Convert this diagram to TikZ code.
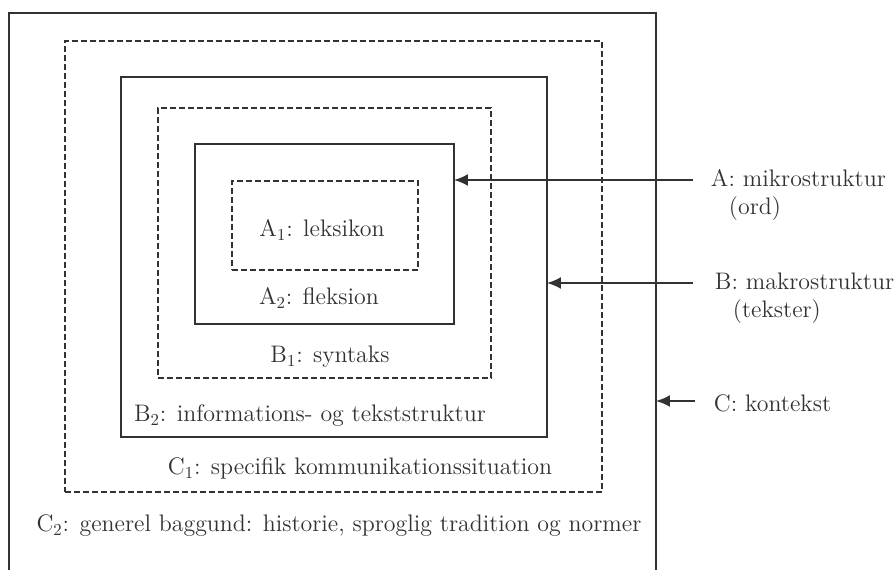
\documentclass[tikz,border=0pt]{standalone}
\usepackage{tikz}
\usetikzlibrary{arrows.meta}
\usepackage{xcolor}
\definecolor{ink}{RGB}{50,50,50}

\begin{document}
\begin{tikzpicture}[
    x=0.02cm,
    y=-0.02cm,
    ink,
    line width=1.1pt,
    solidbox/.style={draw,
        inner sep=0pt,
        outer sep=0pt},
    dashbox/.style={solidbox,
        dash pattern=on 1.2mm off 0.6mm},
    lbl/.style={font=\fontsize{13.6}{16}\selectfont,
        inner sep=0pt,
        text=ink},
    arr/.style={-{Latex[length=2.8mm,width=2.4mm]}}]

\useasboundingbox (0,0) rectangle (894,570);

% C: outer frame (open at the bottom)
\coordinate (Csw) at (9,572);
\coordinate (Cse) at (656,572);
\draw (Csw) -- (9,13) -- (656,13) -- (Cse);

% C1
\node[dashbox,
    minimum width=10.74cm,
    minimum height=9.02cm] (boxCone) at (333.5,266.5) {};

% B2
\node[solidbox,
    minimum width=8.52cm,
    minimum height=7.2cm] (boxBtwo) at (334,257) {};

% B1
\node[dashbox,
    minimum width=6.66cm,
    minimum height=5.4cm] (boxBone) at (324.5,243) {};

% A2
\node[solidbox,
    minimum width=5.18cm,
    minimum height=3.6cm] (boxAtwo) at (324.5,234) {};

% A1
\node[dashbox,
    minimum width=3.72cm,
    minimum height=1.78cm] (boxAone) at (325,225.5) {};

% Labels inside the boxes
\node[lbl, anchor=base] (txtAone) at (322,237) {A\textsubscript{1}: leksikon};
\node[lbl, anchor=base] (txtAtwo) at (319,305) {A\textsubscript{2}: fleksion};
\node[lbl, anchor=base] (txtBone) at (330,363) {B\textsubscript{1}: syntaks};
\node[lbl, anchor=base] (txtBtwo) at (310,422) {B\textsubscript{2}: informations- og tekststruktur};
\node[lbl, anchor=base] (txtCone) at (360,475) {C\textsubscript{1}: specifik kommunikationssituation};
\node[lbl, anchor=base] (txtCtwo) at (339,532) {C\textsubscript{2}: generel baggund: historie, sproglig tradition og normer};

% Labels on the right
\node[lbl, anchor=base west] (labA) at (710,187) {A: mikrostruktur};
\node[lbl, anchor=base west] (labAsub) at (728,215) {(ord)};
\node[lbl, anchor=base west] (labB) at (714,290) {B: makrostruktur};
\node[lbl, anchor=base west] (labBsub) at (732,318) {(tekster)};
\node[lbl, anchor=base west] (labC) at (713,412) {C: kontekst};

% Arrows
\coordinate (tailA) at (693,180);
\coordinate (tailB) at (693,283);
\coordinate (tailC) at (695,401);
\draw[arr] (tailA) -- (tailA -| boxAtwo.east);
\draw[arr] (tailB) -- (tailB -| boxBtwo.east);
\draw[arr] (tailC) -- (tailC -| Cse);

\end{tikzpicture}
\end{document}
